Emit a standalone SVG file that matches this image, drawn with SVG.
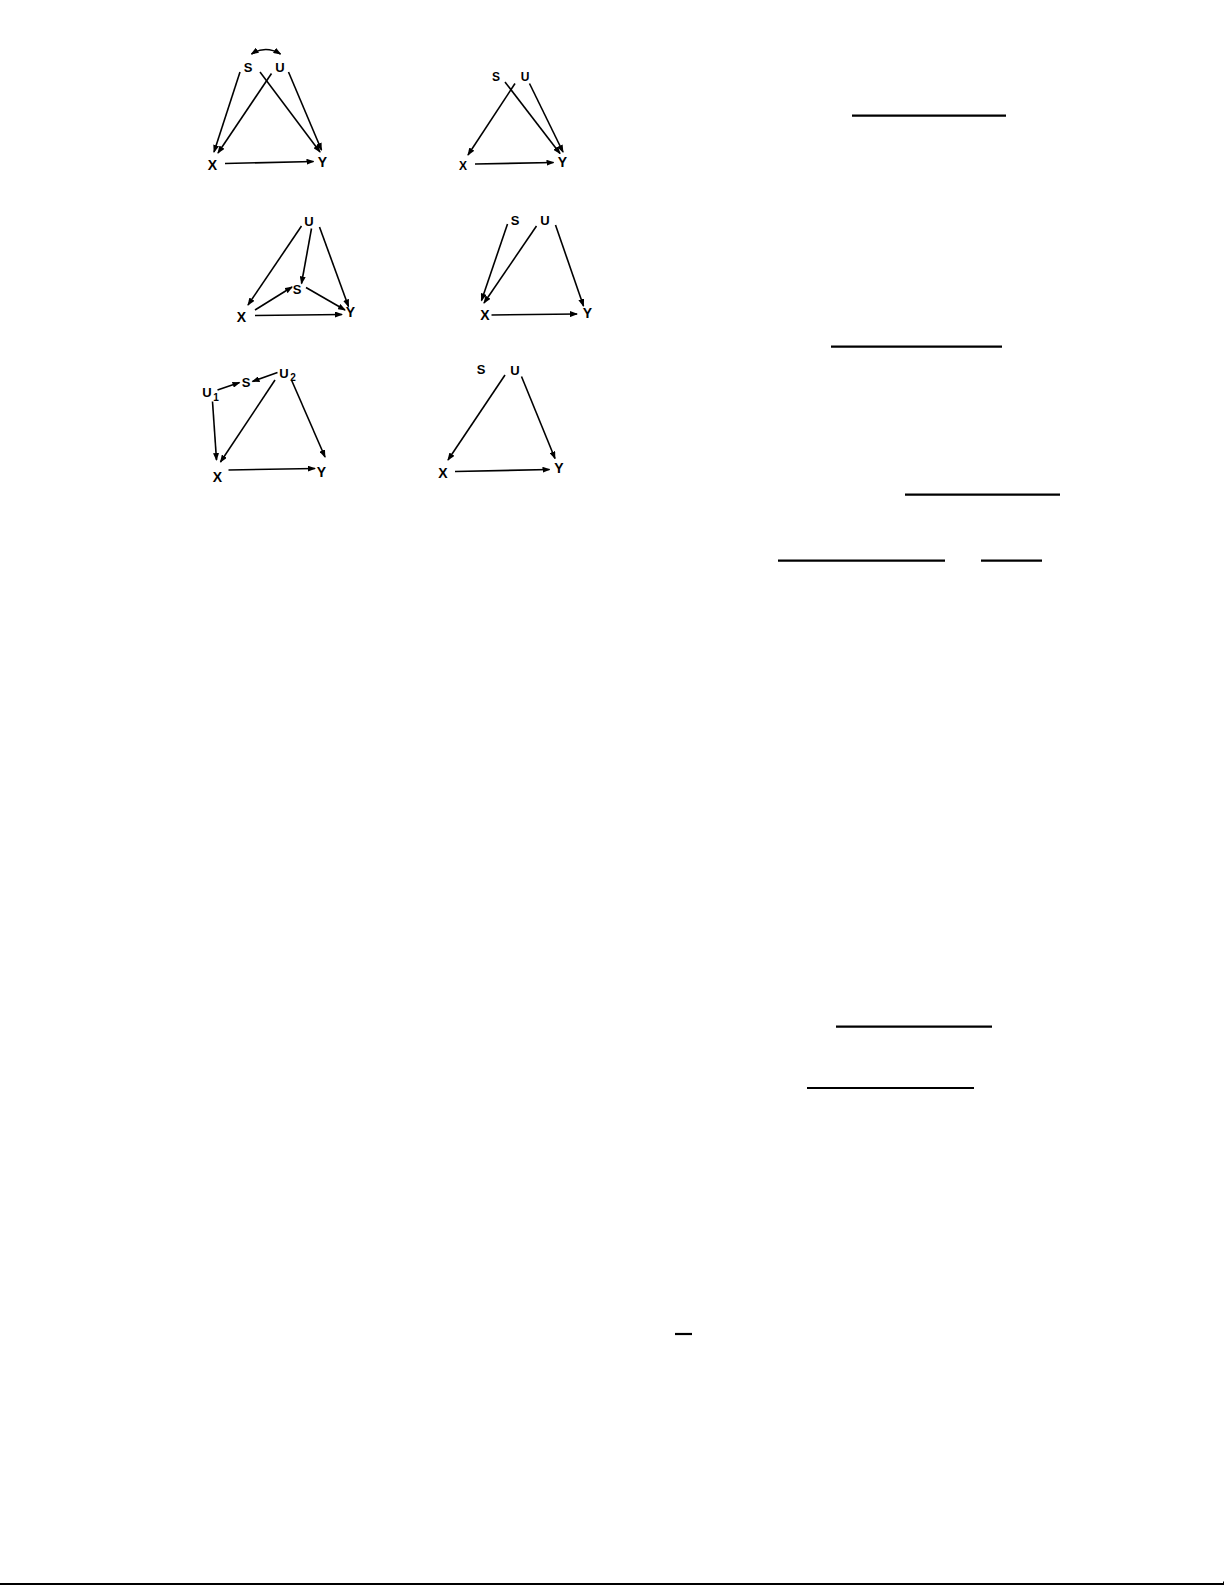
<svg xmlns="http://www.w3.org/2000/svg" width="1225" height="1585" viewBox="0 0 1225 1585">
<style>
.lbl{font-family:"Liberation Sans",Arial,sans-serif;font-weight:bold;font-size:14px;fill:#000;text-anchor:middle;dominant-baseline:central}
.sm{font-size:13px}
.sub{font-family:"Liberation Sans",Arial,sans-serif;font-weight:bold;font-size:10px;fill:#000;text-anchor:middle;dominant-baseline:central}
.e{stroke:#000;stroke-width:1.6;fill:none;marker-end:url(#ah)}
.bar{stroke:#000;stroke-width:2.2}
</style>
<defs>
<marker id="ah" markerUnits="userSpaceOnUse" markerWidth="8" markerHeight="6" refX="7" refY="3" orient="auto">
<path d="M0,0 L8,3 L0,6 z" fill="#000"/>
</marker>
<marker id="ahs" markerUnits="userSpaceOnUse" markerWidth="8" markerHeight="6" refX="7" refY="3" orient="auto-start-reverse">
<path d="M0,0 L8,3 L0,6 z" fill="#000"/>
</marker>
</defs>
<rect width="1225" height="1585" fill="#fff"/>

<!-- Diagram 1 -->
<g id="d1">
<g id="d1-S"><text class="lbl sm" x="248" y="67">S</text></g>
<g id="d1-U"><text class="lbl sm" x="280" y="67">U</text></g>
<g id="d1-X"><text class="lbl" x="212.5" y="165">X</text></g>
<g id="d1-Y"><text class="lbl" x="322.5" y="161.5">Y</text></g>
</g>
<!-- Diagram 2 -->
<g id="d2">
<g id="d2-S"><text class="lbl sm" style="font-size:12px" x="496" y="77">S</text></g>
<g id="d2-U"><text class="lbl sm" style="font-size:12px" x="525" y="77">U</text></g>
<g id="d2-X"><text class="lbl" style="font-size:12px" x="463" y="166">X</text></g>
<g id="d2-Y"><text class="lbl" x="562.5" y="161.5">Y</text></g>
</g>
<!-- Diagram 3 -->
<g id="d3">
<g id="d3-U"><text class="lbl sm" x="309" y="221.5">U</text></g>
<g id="d3-S"><text class="lbl sm" x="297" y="289">S</text></g>
<g id="d3-X"><text class="lbl" x="241.5" y="316.5">X</text></g>
<g id="d3-Y"><text class="lbl" x="350.5" y="311.5">Y</text></g>
</g>
<!-- Diagram 4 -->
<g id="d4">
<g id="d4-S"><text class="lbl sm" x="515" y="220.5">S</text></g>
<g id="d4-U"><text class="lbl sm" x="545" y="220.5">U</text></g>
<g id="d4-X"><text class="lbl" x="485" y="315">X</text></g>
<g id="d4-Y"><text class="lbl" x="587.5" y="313">Y</text></g>
</g>
<!-- Diagram 5 -->
<g id="d5">
<g id="d5-U1"><text class="lbl sm" x="207" y="392.5">U</text><text class="sub" x="216" y="397">1</text></g>
<g id="d5-S"><text class="lbl sm" x="246" y="382">S</text></g>
<g id="d5-U2"><text class="lbl sm" x="284" y="373">U</text><text class="sub" x="293" y="377">2</text></g>
<g id="d5-X"><text class="lbl" x="217.5" y="476.5">X</text></g>
<g id="d5-Y"><text class="lbl" x="321.5" y="471.5">Y</text></g>
</g>
<!-- Diagram 6 -->
<g id="d6">
<g id="d6-S"><text class="lbl sm" x="481" y="369">S</text></g>
<g id="d6-U"><text class="lbl sm" x="515" y="370.5">U</text></g>
<g id="d6-X"><text class="lbl" x="443" y="473">X</text></g>
<g id="d6-Y"><text class="lbl" x="559" y="468">Y</text></g>
</g>

<g id="connectors">
<!-- d1 -->
<path d="M251.5,54 Q265.5,45 280.5,54" stroke="#000" stroke-width="1.6" fill="none" marker-start="url(#ahs)" marker-end="url(#ah)"/>
<line class="e" x1="240" y1="72" x2="214" y2="152"/>
<line class="e" x1="271.5" y1="73.5" x2="218" y2="153"/>
<line class="e" x1="260" y1="72" x2="320" y2="152"/>
<line class="e" x1="288.5" y1="72" x2="321.5" y2="150"/>
<line class="e" x1="225" y1="163.5" x2="313.5" y2="161.5"/>
<!-- d2 -->
<line class="e" x1="505" y1="82" x2="560" y2="153.5"/>
<line class="e" x1="515" y1="83.5" x2="468" y2="155"/>
<line class="e" x1="529.5" y1="83.5" x2="563" y2="152"/>
<line class="e" x1="475" y1="164" x2="553.5" y2="162.5"/>
<!-- d3 -->
<line class="e" x1="301.5" y1="226" x2="248" y2="305"/>
<line class="e" x1="311.5" y1="228.5" x2="301.5" y2="283.5"/>
<line class="e" x1="319.5" y1="227" x2="348.5" y2="306.5"/>
<line class="e" x1="255" y1="310" x2="292" y2="287"/>
<line class="e" x1="306" y1="287.5" x2="345" y2="310"/>
<line class="e" x1="255" y1="315.5" x2="342" y2="314.5"/>
<!-- d4 -->
<line class="e" x1="507.5" y1="224" x2="481.5" y2="300.5"/>
<line class="e" x1="536.5" y1="226" x2="484" y2="303"/>
<line class="e" x1="555.5" y1="225" x2="583.5" y2="306"/>
<line class="e" x1="491.5" y1="315" x2="577" y2="314"/>
<!-- d5 -->
<line class="e" x1="217.5" y1="390" x2="239.5" y2="382.5"/>
<line class="e" x1="277.5" y1="372.5" x2="252.5" y2="381.5"/>
<line class="e" x1="212.5" y1="401.5" x2="216.5" y2="460"/>
<line class="e" x1="275" y1="380" x2="220.5" y2="462"/>
<line class="e" x1="291.5" y1="380" x2="325" y2="457"/>
<line class="e" x1="228.5" y1="470" x2="315" y2="468.5"/>
<!-- d6 -->
<line class="e" x1="505" y1="375" x2="448" y2="460"/>
<line class="e" x1="521.5" y1="376.5" x2="555" y2="458.5"/>
<line class="e" x1="455" y1="471.5" x2="549.5" y2="469.5"/>
</g>

<!-- right-hand rules -->
<line class="bar" x1="852" y1="115.7" x2="1006" y2="115.7"/>
<line class="bar" x1="831" y1="346.7" x2="1002" y2="346.7"/>
<line class="bar" x1="905" y1="494.7" x2="1060" y2="494.7"/>
<line class="bar" x1="778" y1="560.7" x2="945" y2="560.7"/>
<line class="bar" x1="981" y1="560.7" x2="1042" y2="560.7"/>
<line class="bar" x1="836" y1="1026.7" x2="992" y2="1026.7"/>
<line class="bar" x1="807" y1="1088" x2="974" y2="1088"/>
<line class="bar" x1="675" y1="1334" x2="692" y2="1334"/>
<line stroke="#000" stroke-width="2" x1="0" y1="1584" x2="1223" y2="1584"/>
<line stroke="#000" stroke-width="1" x1="1223.5" y1="1581.5" x2="1223.5" y2="1585"/>
</svg>
